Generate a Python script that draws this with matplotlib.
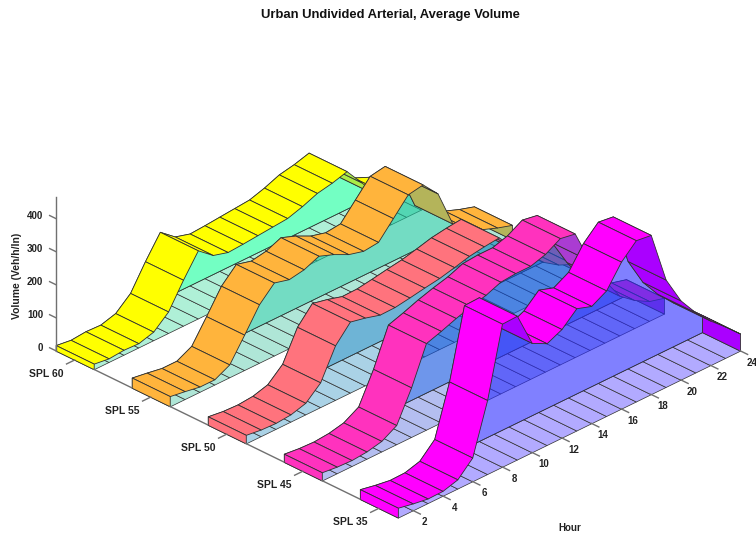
import matplotlib
matplotlib.use("Agg")
import matplotlib.pyplot as plt
from mpl_toolkits.mplot3d import proj3d
from mpl_toolkits.mplot3d.art3d import Poly3DCollection

plt.rcParams['font.family'] = ['Liberation Sans', 'DejaVu Sans']

hours = list(range(1, 25))
hour_ticks = list(range(2, 25, 2))
vol_ticks = [0, 100, 200, 300, 400]
spl_labels = ["SPL 60", "SPL 55", "SPL 50", "SPL 45", "SPL 35"]

# volume per hour
spl60 = [17, 11, 15, 13, 26, 65, 139, 206, 170, 157, 160, 164, 168, 172, 186, 204, 213, 226, 170, 110, 85, 65, 50, 30]
spl55 = [31, 24, 16, 16, 39, 107, 177, 221, 209, 217, 236, 219, 197, 185, 190, 240, 290, 298, 249, 136, 100, 75, 58, 44]
spl50 = [26, 20, 18, 22, 35, 75, 165, 215, 205, 192, 193, 200, 208, 215, 226, 238, 245, 250, 200, 150, 110, 80, 60, 50]
spl45 = [25, 20, 18, 22, 32, 58, 150, 262, 277, 294, 308, 320, 338, 342, 342, 356, 382, 374, 270, 188, 120, 85, 60, 48]
spl35 = [30, 21, 14, 15, 28, 72, 224, 433, 435, 331, 308, 329, 370, 355, 380, 445, 488, 482, 325, 240, 182, 135, 95, 52]
rows = [spl60, spl55, spl50, spl45, spl35]

top_cols = ["#FFFF00", "#FFB43C", "#FF737D", "#FF32BE", "#FF00FF"]
under_cols = ["#AAEB46", "#B4B45A", "#C864AA", "#AA3CD2", "#AA00FF"]
floor_cols = ["#AFF0D7", "#AFE6D7", "#AAD2E6", "#B4BEF0", "#B2AAFF"]
wall_cols = [(22, 255, 155), (22, 197, 155), (13, 130, 188), (13, 80, 222), (43, 43, 255)]
wall_alpha = 0.6
line_col = "#303030"
axis_col = "#707070"

W, H = 756, 538
fig = plt.figure(figsize=(W / 100, H / 100), dpi=100)
ax = fig.add_axes([0, 0, 1, 1], projection='3d', proj_type='ortho')
ax.set_xlim(0, 9)
ax.set_ylim(1, 24)
ax.set_zlim(0, 500)
ax.view_init(elev=29.2, azim=-45)
ax.set_axis_off()
ax.computed_zorder = False
ax.patch.set_alpha(0)
aspect = (483, 483, 189)


def to_px(x, y, z):
    px, py, _ = proj3d.proj_transform(x, y, z, ax.get_proj())
    p = ax.transData.transform((px, py))
    return p[0], H - p[1]


# fit the box to the reference corners
k = 1.0
for i in range(3):
    ax.set_box_aspect(aspect, zoom=k)
    ax.apply_aspect()
    a = to_px(0, 1, 0)
    b = to_px(9, 24, 0)
    k = k * (740.0 - 55.7) / (b[0] - a[0])
ax.set_box_aspect(aspect, zoom=k)
ax.apply_aspect()
a = to_px(0, 1, 0)
ax.set_position([(55.7 - a[0]) / W, (a[1] - 350.7) / H, 1, 1])
ax.apply_aspect()

n = [0]


def add_poly(verts, face, edge=line_col, lw=0.6):
    n[0] += 1
    pc = Poly3DCollection([verts], facecolors=[face], edgecolors=[edge], linewidths=lw, zorder=n[0])
    ax.add_collection3d(pc)
    pc.set_clip_on(False)


def tick_text(x, y, z, s, size=7, ha='center'):
    px, py = to_px(x, y, z)
    fig.text(px / W, 1 - py / H, s, ha=ha, va='center', fontsize=size, fontweight='bold', color="#222222")


for i, vals in enumerate(rows):
    s = i * 2
    wall = tuple(c / 255 for c in wall_cols[i]) + (wall_alpha,)

    # floor under the ribbon
    for j in range(len(hours) - 1):
        add_poly([(s, hours[j], 0), (s + 1, hours[j], 0), (s + 1, hours[j + 1], 0), (s, hours[j + 1], 0)],
                 floor_cols[i], lw=0.5)

    # back wall, see through
    top = [(s, h, v) for h, v in zip(hours, vals)]
    add_poly(top + [(s, 24, 0), (s, 1, 0)], wall, lw=0.5)

    # far end cap
    add_poly([(s, 24, 0), (s + 1, 24, 0), (s + 1, 24, vals[-1]), (s, 24, vals[-1])], under_cols[i])

    # top faces, far hours first, steep falls show the underside
    for j in range(len(hours) - 2, -1, -1):
        drop = vals[j] - vals[j + 1]
        col = under_cols[i] if drop > 44 else top_cols[i]
        add_poly([(s, hours[j], vals[j]), (s + 1, hours[j], vals[j]),
                  (s + 1, hours[j + 1], vals[j + 1]), (s, hours[j + 1], vals[j + 1])], col)

    # near end cap
    add_poly([(s, 1, 0), (s + 1, 1, 0), (s + 1, 1, vals[0]), (s, 1, vals[0])], top_cols[i])

# axes
az = n[0] + 1
lines = []
lines += ax.plot([0, 0], [1, 1], [0, 465], color=axis_col, lw=1, zorder=az)
for g in range(4):
    lines += ax.plot([g * 2 + 1, g * 2 + 2], [1, 1], [0, 0], color=axis_col, lw=1, zorder=az)
for v in vol_ticks:
    lines += ax.plot([-0.16, 0], [1, 1], [v, v], color=axis_col, lw=1, zorder=az)
    tick_text(-0.24, 0.76, v, str(v), ha='right')
for i, lab in enumerate(spl_labels):
    s = i * 2 + 0.5
    lines += ax.plot([s, s], [0.45, 1], [0, 0], color=axis_col, lw=1, zorder=az)
    tick_text(s, -0.94, 0, lab, size=7.5)
for h in hour_ticks:
    lines += ax.plot([9, 9.2], [h, h], [0, 0], color=axis_col, lw=1, zorder=az)
    tick_text(9.48, h - 0.42, 0, str(h))
for ln in lines:
    ln.set_clip_on(False)

fig.text(390 / W, 1 - 15 / H, "Urban Undivided Arterial, Average Volume", ha='center', va='center',
         fontsize=9.4, fontweight='bold', color="#111111")
fig.text(17 / W, 1 - 276 / H, "Volume (Veh/h/ln)", rotation=90, ha='center', va='center',
         fontsize=7.5, fontweight='bold', color="#222222")
fig.text(570 / W, 1 - 528 / H, "Hour", ha='center', va='center', fontsize=7, fontweight='bold', color="#222222")

fig.savefig("out.png", dpi=100)
